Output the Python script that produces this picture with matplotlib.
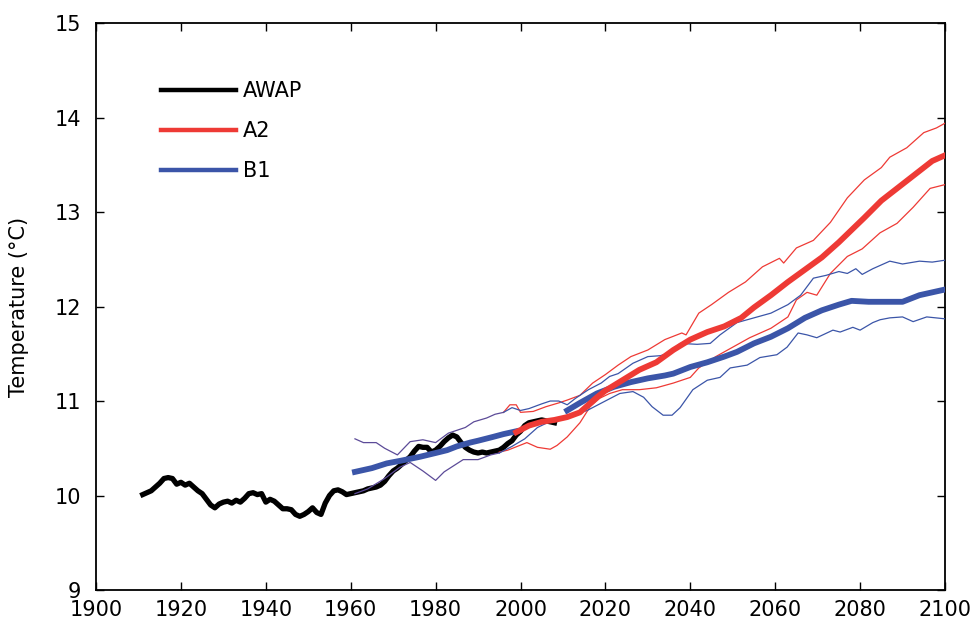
import numpy as np
import matplotlib
matplotlib.use("Agg")
import matplotlib.pyplot as plt
from matplotlib.lines import Line2D

plt.rcParams["font.family"] = ["DejaVu Sans"]

# AWAP observations
awap_years = list(range(1911, 2009))
awap_temp = [10.01, 10.03, 10.05, 10.09, 10.13, 10.18, 10.19, 10.18, 10.12, 10.14,
             10.11, 10.13, 10.09, 10.05, 10.02, 9.96, 9.90, 9.87, 9.91, 9.93,
             9.94, 9.92, 9.95, 9.93, 9.97, 10.02, 10.03, 10.01, 10.02, 9.93,
             9.96, 9.94, 9.90, 9.86, 9.86, 9.85, 9.80, 9.78, 9.80, 9.83,
             9.87, 9.82, 9.80, 9.92, 10.00, 10.05, 10.06, 10.04, 10.01, 10.02,
             10.03, 10.04, 10.05, 10.07, 10.08, 10.09, 10.11, 10.15, 10.21, 10.26,
             10.29, 10.33, 10.37, 10.41, 10.47, 10.52, 10.51, 10.51, 10.46, 10.48,
             10.52, 10.57, 10.61, 10.64, 10.62, 10.56, 10.51, 10.48, 10.46, 10.45,
             10.46, 10.45, 10.46, 10.47, 10.48, 10.51, 10.55, 10.58, 10.64, 10.68,
             10.74, 10.77, 10.78, 10.79, 10.80, 10.79, 10.78, 10.77]

# model 20th century (shared by both scenarios)
hist_years = [1961, 1965, 1968.5, 1972, 1976.3, 1980, 1982.7, 1985, 1988.1, 1990, 1993.5, 1996, 1999]
hist_mean = [10.25, 10.29, 10.34, 10.37, 10.41, 10.45, 10.48, 10.52, 10.56, 10.58, 10.62, 10.65, 10.68]

hist_up_years = [1961, 1963, 1966, 1968, 1971, 1974, 1977, 1980, 1983, 1987, 1989, 1992, 1994, 1996]
hist_up = [10.60, 10.56, 10.56, 10.50, 10.43, 10.57, 10.59, 10.56, 10.66, 10.72, 10.78, 10.82, 10.86, 10.88]

hist_lo_years = [1961, 1964, 1968, 1971.6, 1974, 1977, 1980, 1982, 1986.5, 1990, 1993, 1995]
hist_lo = [10.02, 10.07, 10.18, 10.30, 10.35, 10.26, 10.16, 10.25, 10.38, 10.38, 10.43, 10.45]

# A2 scenario
a2_years = [1999, 2002, 2005, 2008, 2011, 2014, 2016, 2018, 2020, 2024, 2028, 2032, 2036, 2040,
            2044, 2048, 2052, 2055, 2059, 2063, 2067, 2071, 2075, 2078, 2081, 2085, 2089, 2093,
            2097, 2100]
a2_mean = [10.67, 10.74, 10.78, 10.80, 10.83, 10.88, 10.96, 11.04, 11.11, 11.22, 11.33, 11.41,
           11.54, 11.65, 11.73, 11.79, 11.88, 11.99, 12.12, 12.26, 12.39, 12.52, 12.68, 12.81,
           12.94, 13.12, 13.26, 13.40, 13.54, 13.60]

a2_up_years = [1996, 1997.5, 1999, 2000, 2003, 2006, 2009, 2011, 2014, 2017, 2020, 2023, 2026,
               2030, 2034, 2038, 2039, 2042, 2045, 2049, 2053, 2057, 2061, 2062, 2065, 2069,
               2073, 2077, 2081, 2085, 2087, 2091, 2095, 2098, 2100]
a2_up = [10.88, 10.96, 10.96, 10.88, 10.89, 10.94, 10.98, 11.01, 11.06, 11.19, 11.28, 11.38,
         11.47, 11.54, 11.65, 11.72, 11.70, 11.93, 12.02, 12.15, 12.26, 12.42, 12.51, 12.46,
         12.62, 12.70, 12.89, 13.15, 13.34, 13.47, 13.58, 13.68, 13.84, 13.89, 13.94]

a2_lo_years = [1995, 1997, 2001.5, 2004, 2007, 2008.6, 2011, 2014, 2016.4, 2018.7, 2021, 2024,
               2028, 2032, 2036, 2040, 2042, 2046, 2050, 2054, 2059, 2063, 2065, 2067.5, 2069.8,
               2073, 2077, 2080.5, 2084.7, 2088.7, 2092.5, 2096.5, 2100]
a2_lo = [10.46, 10.48, 10.56, 10.51, 10.49, 10.53, 10.62, 10.77, 10.94, 11.03, 11.08, 11.12,
         11.12, 11.14, 11.19, 11.25, 11.35, 11.47, 11.57, 11.67, 11.77, 11.89, 12.07, 12.15,
         12.12, 12.35, 12.53, 12.61, 12.78, 12.88, 13.05, 13.25, 13.29]

# B1 scenario
b1_years = [2011, 2014, 2018, 2022, 2026, 2030, 2034, 2036, 2040, 2044, 2048, 2051, 2055, 2059,
            2063, 2067, 2071, 2075, 2078, 2082, 2086, 2090, 2094, 2098, 2100]
b1_mean = [10.90, 10.98, 11.08, 11.15, 11.20, 11.24, 11.27, 11.29, 11.36, 11.41, 11.47, 11.52,
           11.61, 11.68, 11.77, 11.88, 11.96, 12.02, 12.06, 12.05, 12.05, 12.05, 12.12, 12.16, 12.18]

b1_up_years = [1996, 1998, 2000, 2002, 2005, 2007, 2009, 2011, 2013, 2016, 2019, 2021, 2023,
               2026.5, 2030, 2033, 2035, 2037.6, 2041.6, 2044.7, 2047, 2051, 2055, 2059, 2063,
               2066, 2069, 2072, 2075, 2077, 2079, 2080.5, 2083, 2087, 2090, 2094, 2097, 2100]
b1_up = [10.88, 10.93, 10.90, 10.92, 10.97, 11.00, 11.00, 10.96, 11.03, 11.12, 11.19, 11.26,
         11.29, 11.40, 11.47, 11.48, 11.51, 11.61, 11.60, 11.61, 11.70, 11.83, 11.88, 11.93,
         12.02, 12.12, 12.30, 12.33, 12.37, 12.35, 12.40, 12.34, 12.40, 12.48, 12.45, 12.48,
         12.47, 12.49]

b1_lo_years = [1995, 1998, 2001, 2004, 2007.7, 2011, 2015.7, 2020.4, 2023.4, 2026.5, 2029, 2031,
               2033.6, 2035.7, 2037.6, 2040.6, 2044, 2047, 2049.4, 2053.4, 2056.4, 2060.4, 2062.8,
               2065.4, 2067.5, 2069.8, 2073.6, 2075.3, 2078.3, 2080, 2083, 2084.7, 2087, 2090,
               2092.5, 2095.7, 2100]
b1_lo = [10.45, 10.52, 10.60, 10.72, 10.80, 10.83, 10.90, 11.01, 11.08, 11.10, 11.04, 10.94,
         10.85, 10.85, 10.93, 11.12, 11.22, 11.25, 11.35, 11.38, 11.46, 11.49, 11.57, 11.72,
         11.70, 11.67, 11.75, 11.73, 11.78, 11.75, 11.83, 11.86, 11.88, 11.89, 11.84, 11.89, 11.87]

RED = "#ee3a35"
BLUE = "#3b55a8"
PURPLE = "#5c4b98"

fig = plt.figure(figsize=(9.71, 6.22), dpi=100)
ax = fig.add_axes([0.0989, 0.0514, 0.8743, 0.9116])

ax.plot(awap_years, awap_temp, color="black", lw=3.8, zorder=2, solid_joinstyle="round")

ax.plot(hist_up_years, hist_up, color=PURPLE, lw=0.9, zorder=3)
ax.plot(hist_lo_years, hist_lo, color=PURPLE, lw=0.9, zorder=3)
ax.plot(a2_up_years, a2_up, color=RED, lw=0.9, zorder=3)
ax.plot(a2_lo_years, a2_lo, color=RED, lw=0.9, zorder=3)
ax.plot(b1_up_years, b1_up, color=BLUE, lw=0.9, zorder=3)
ax.plot(b1_lo_years, b1_lo, color=BLUE, lw=0.9, zorder=3)

ax.plot(hist_years, hist_mean, color=BLUE, lw=4.2, zorder=4)
ax.plot(b1_years, b1_mean, color=BLUE, lw=4.2, zorder=4)
ax.plot(a2_years, a2_mean, color=RED, lw=4.2, zorder=5)

ax.set_xlim(1900, 2100)
ax.set_ylim(9, 15)
ax.set_xticks(np.arange(1900, 2101, 20))
ax.set_yticks(np.arange(9, 16, 1))
ax.tick_params(direction="in", length=6, width=1, labelsize=15, top=True, right=True)
ax.tick_params(axis="x", pad=7)
ax.tick_params(axis="y", pad=11)
for s in ax.spines.values():
    s.set_linewidth(1.3)
ax.set_ylabel("Temperature (\u00b0C)", fontsize=15, labelpad=18)

handles = [Line2D([], [], color="black", lw=3.2),
           Line2D([], [], color=RED, lw=3.2),
           Line2D([], [], color=BLUE, lw=3.2)]
ax.legend(handles, ["AWAP", "A2", "B1"], loc="upper left", bbox_to_anchor=(0.055, 0.93),
          frameon=False, fontsize=15, handlelength=3.6, handletextpad=0.3, labelspacing=0.95)

fig.savefig("out.png", dpi=100)
